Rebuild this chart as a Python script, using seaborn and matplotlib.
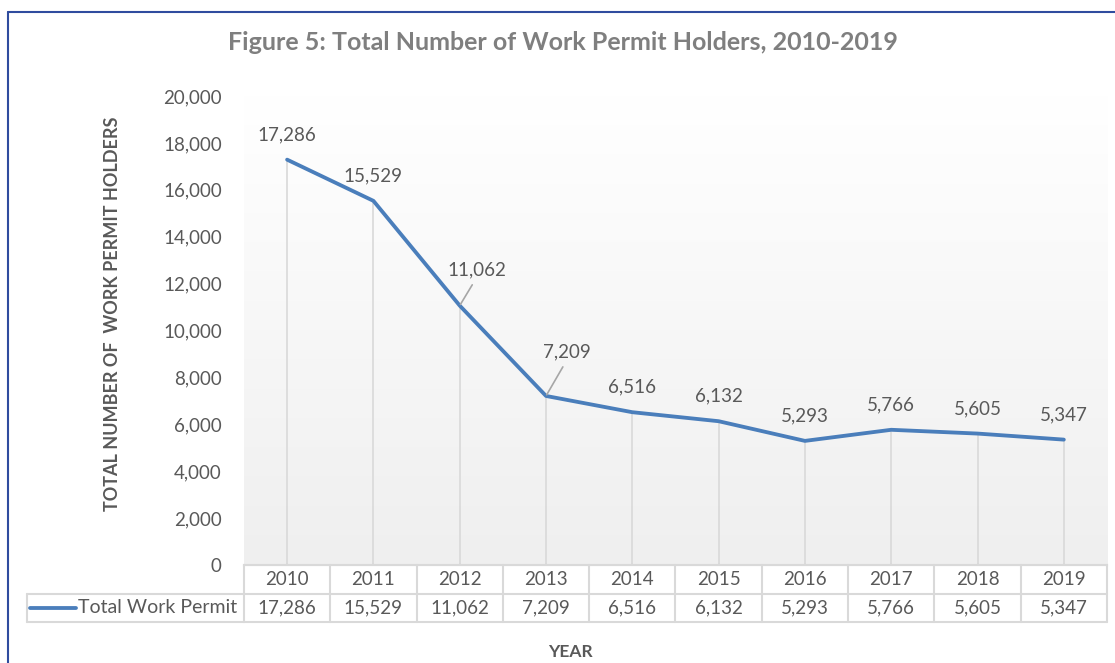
"""
Figure 5: Total Number of Work Permit Holders, 2010-2019

Line chart with drop lines and a data table under the x axis.
"""

import numpy as np
import pandas as pd
import matplotlib
matplotlib.use("Agg")
import matplotlib.pyplot as plt
from matplotlib.colors import LinearSegmentedColormap
from matplotlib.lines import Line2D
from matplotlib.ticker import FuncFormatter
import seaborn as sns

# Data
years = [2010, 2011, 2012, 2013, 2014, 2015, 2016, 2017, 2018, 2019]
work_permits = [17286, 15529, 11062, 7209, 6516, 6132, 5293, 5766, 5605, 5347]
series_name = "Total Work Permit"
y_ticks = [0, 2000, 4000, 6000, 8000, 10000, 12000, 14000, 16000, 18000, 20000]

# Styling
LINE_COLOR = "#4A7EBB"
TEXT_COLOR = "#595959"
GRID_COLOR = "#D9D9D9"
TITLE_COLOR = "#7F7F7F"
FRAME_COLOR = "#2F4C9E"
FONT = ["Lato", "DejaVu Sans"]


def draw_table(ax, n):
    """Draw the Excel-style data table under the plot area."""
    row_h = 0.0608
    trans = ax.transAxes
    kw = dict(color=GRID_COLOR, lw=1.5, transform=trans, clip_on=False)

    # horizontal lines of the year / value rows
    for yy in [0, -row_h, -2 * row_h]:
        ax.add_line(Line2D([0, 1], [yy, yy], **kw))
    # column borders
    for k in range(n + 1):
        xx = k / n
        ax.add_line(Line2D([xx, xx], [0, -2 * row_h], **kw))

    # legend cell on the left of the value row
    x_leg = -0.2514
    ax.add_line(Line2D([x_leg, 0], [-row_h, -row_h], **kw))
    ax.add_line(Line2D([x_leg, 0], [-2 * row_h, -2 * row_h], **kw))
    ax.add_line(Line2D([x_leg, x_leg], [-row_h, -2 * row_h], **kw))
    ax.add_line(Line2D([-0.2480, -0.1947], [-1.5 * row_h, -1.5 * row_h],
                       color=LINE_COLOR, lw=2.75, solid_capstyle="round",
                       transform=trans, clip_on=False))
    ax.text(-0.1924, -1.5 * row_h, series_name, transform=trans,
            ha="left", va="center", fontsize=14, color=TEXT_COLOR, family=FONT)

    # years and values
    for i, (yr, val) in enumerate(zip(years, work_permits)):
        xc = (i + 0.5) / n
        ax.text(xc, -0.5 * row_h, str(yr), transform=trans, ha="center",
                va="center", fontsize=13.5, color=TEXT_COLOR, family=FONT)
        ax.text(xc, -1.5 * row_h, f"{val:,}", transform=trans, ha="center",
                va="center", fontsize=13.5, color=TEXT_COLOR, family=FONT)


def main():
    sns.set_style("white")
    plt.rcParams["font.family"] = FONT

    df = pd.DataFrame({"idx": np.arange(len(years)), "year": years,
                       "permits": work_permits})

    fig = plt.figure(figsize=(11.15, 6.63), dpi=100)
    ax = fig.add_axes([0.2188, 0.1478, 0.774, 0.7074])

    # soft gradient fill of the plot area (white at top, light gray at bottom)
    grad_cmap = LinearSegmentedColormap.from_list("bg", ["#FFFFFF", "#EFEFEF"])
    ax.imshow(np.linspace(0, 1, 256)[:, None], extent=[-0.5, 9.5, 0, 20000],
              origin="upper", aspect="auto", cmap=grad_cmap, zorder=0)

    # drop lines
    ax.vlines(df["idx"], 0, df["permits"], color=GRID_COLOR, lw=1.2, zorder=1)

    # main line
    sns.lineplot(data=df, x="idx", y="permits", ax=ax, color=LINE_COLOR,
                 lw=2.75, zorder=3, legend=False)

    # data labels
    offsets = {2: (12, 26), 3: (15, 32)}
    for i, val in enumerate(work_permits):
        dx, dy = offsets.get(i, (0, 18))
        arrow = None
        if i in offsets:
            arrow = dict(arrowstyle="-", color="#A6A6A6", lw=1.2,
                         shrinkA=3, shrinkB=1, relpos=(0.5, 0))
        ax.annotate(f"{val:,}", (i, val), xytext=(dx, dy),
                    textcoords="offset points", ha="center", va="center",
                    fontsize=13.5, color=TEXT_COLOR, arrowprops=arrow)

    # axes
    ax.set_xlim(-0.5, 9.5)
    ax.set_ylim(0, 20000)
    ax.set_yticks(y_ticks)
    ax.yaxis.set_major_formatter(FuncFormatter(lambda v, p: f"{int(v):,}"))
    ax.tick_params(axis="y", length=0, pad=16, labelsize=13.5,
                   labelcolor=TEXT_COLOR)
    ax.set_xticks([])
    ax.set_xlabel("")
    ax.set_ylabel("")
    for side in ["left", "right", "top"]:
        ax.spines[side].set_visible(False)
    ax.spines["bottom"].set_color(GRID_COLOR)
    ax.spines["bottom"].set_linewidth(1.5)

    draw_table(ax, len(years))

    # titles
    fig.text(563 / 1115, 1 - 42 / 663,
             "Figure 5: Total Number of Work Permit Holders, 2010-2019",
             ha="center", va="center", fontsize=18, fontweight="bold",
             color=TITLE_COLOR)
    fig.text(113 / 1115, 1 - 314 / 663, "TOTAL NUMBER OF  WORK PERMIT HOLDERS",
             ha="center", va="center", rotation=90, fontsize=13,
             fontweight="bold", color=TEXT_COLOR)
    fig.text(570 / 1115, 1 - 652 / 663, "YEAR", ha="center", va="center",
             fontsize=12.5, fontweight="bold", color=TEXT_COLOR)

    # outer chart frame (top and left edges visible)
    fy = 1 - 12 / 663
    fx = 8 / 1115
    fig.add_artist(Line2D([fx, 1], [fy, fy], color=FRAME_COLOR, lw=1.5,
                          transform=fig.transFigure))
    fig.add_artist(Line2D([fx, fx], [0, fy], color=FRAME_COLOR, lw=1.5,
                          transform=fig.transFigure))

    fig.savefig("out.png", dpi=100)
    plt.close(fig)


if __name__ == "__main__":
    main()
